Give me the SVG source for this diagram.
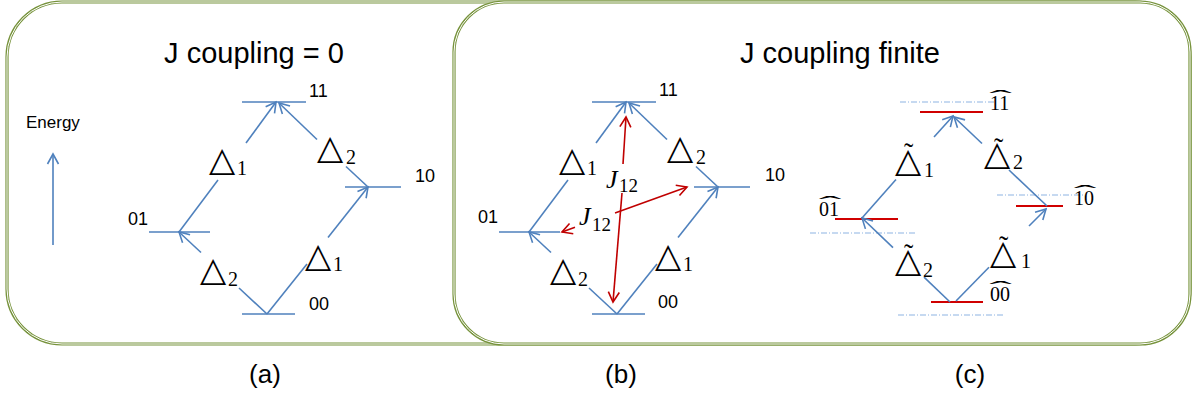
<svg xmlns="http://www.w3.org/2000/svg" width="1198" height="401" viewBox="0 0 1198 401">
<style>
.frame{fill:#fff;stroke:#77933C;stroke-width:3.2}
.frameIn{fill:none;stroke:#fff;stroke-width:1}
.lvl{stroke:#4F81BD;stroke-width:1.6;fill:none}
.rlvl{stroke:#D00000;stroke-width:2;fill:none}
.dd{stroke:#8DB3E2;stroke-width:1;stroke-dasharray:6 2 1 2;fill:none}
.arr{stroke:#4F81BD;stroke-width:1.6;fill:none}
.ra{stroke:#C00000;stroke-width:1.6;fill:none}
.title{font-family:"Liberation Sans",Arial,sans-serif;font-size:29px;fill:#000}
.lab{font-family:"Liberation Sans",Arial,sans-serif;font-size:18px;fill:#000}
.cap{font-family:"Liberation Sans",Arial,sans-serif;font-size:26px;fill:#000}
.tri{font-family:"DejaVu Sans",sans-serif;font-size:34px;fill:#000}
.sub{font-family:"Liberation Serif","Times New Roman",serif;font-size:20px;fill:#000}
.jj{font-family:"Liberation Serif","Times New Roman",serif;font-style:italic;font-size:26px;fill:#000}
.js{font-family:"Liberation Serif","Times New Roman",serif;font-style:normal;font-size:19px;fill:#000}
.hl{font-family:"Liberation Serif","Times New Roman",serif;font-size:20px;fill:#000}
.acc{font-family:"Liberation Serif","Times New Roman",serif;font-size:20px;fill:#000;text-anchor:middle}
.til{font-family:"Liberation Serif","Times New Roman",serif;font-size:28px;fill:#000}
</style>
<defs>
<marker id="ab" markerWidth="14" markerHeight="14" refX="12" refY="7" orient="auto-start-reverse" markerUnits="userSpaceOnUse"><path d="M2,1.5 L12,7 L2,12.5" fill="none" stroke="#4F81BD" stroke-width="1.6"/></marker>
<marker id="ar" markerWidth="14" markerHeight="14" refX="12" refY="7" orient="auto-start-reverse" markerUnits="userSpaceOnUse"><path d="M2,1.5 L12,7 L2,12.5" fill="none" stroke="#C00000" stroke-width="1.6"/></marker>
</defs>

<g id="frames">
<rect class="frame" x="7" y="2" width="1183" height="342" rx="55" ry="55"/>
<rect class="frameIn" x="7" y="2" width="1183" height="342" rx="55" ry="55"/>
<rect class="frame" x="454" y="2" width="736" height="342" rx="50" ry="50"/>
<rect class="frameIn" x="454" y="2" width="736" height="342" rx="50" ry="50"/>
</g>

<g id="titles">
<text class="title" x="254" y="63" text-anchor="middle">J coupling = 0</text>
<text class="title" x="840" y="63" text-anchor="middle">J coupling finite</text>
<text class="cap" x="265" y="383" text-anchor="middle">(a)</text>
<text class="cap" x="621" y="383" text-anchor="middle">(b)</text>
<text class="cap" x="970" y="383" text-anchor="middle">(c)</text>
</g>

<g id="energy">
<text class="lab" x="26" y="128" style="font-size:17px">Energy</text>
<path class="arr" d="M53,245 L53,154" marker-end="url(#ab)"/>
</g>

<!-- Panel (a) levels -->
<g id="a-11"><path class="lvl" d="M242,102 H306"/><text class="lab" x="309" y="97">11</text></g>
<g id="a-10"><path class="lvl" d="M345,187 H401"/><text class="lab" x="415" y="182">10</text></g>
<g id="a-01"><path class="lvl" d="M149,232 H210"/><text class="lab" x="128" y="225">01</text></g>
<g id="a-00"><path class="lvl" d="M242,314 H295"/><text class="lab" x="309" y="310">00</text></g>

<!-- Panel (b) levels -->
<g id="b-11"><path class="lvl" d="M592,102 H656"/><text class="lab" x="659" y="96">11</text></g>
<g id="b-10"><path class="lvl" d="M694,187 H750"/><text class="lab" x="765" y="181">10</text></g>
<g id="b-01"><path class="lvl" d="M499,232 H560"/><text class="lab" x="478" y="223">01</text></g>
<g id="b-00"><path class="lvl" d="M592,314 H645"/><text class="lab" x="658" y="308">00</text></g>

<!-- Panel (c) levels -->
<g id="c-11"><path class="dd" d="M900,102 H995"/><path class="rlvl" d="M920,112 H983"/><text class="acc" transform="translate(1000.5,105) scale(3.4,1)">ˆ</text><text class="hl" x="990" y="110">11</text></g>
<g id="c-10"><path class="dd" d="M997,195 H1085"/><path class="rlvl" d="M1016,206 H1063"/><text class="acc" transform="translate(1085,200) scale(3.4,1)">ˆ</text><text class="hl" x="1074" y="205">10</text></g>
<g id="c-01"><path class="dd" d="M810,233 H917"/><path class="rlvl" d="M835,219 H898"/><text class="acc" transform="translate(830,211) scale(3.4,1)">ˆ</text><text class="hl" x="819" y="216">01</text></g>
<g id="c-00"><path class="dd" d="M898,315 H1005"/><path class="rlvl" d="M931,302 H983"/><text class="acc" transform="translate(1000.5,296) scale(3.4,1)">ˆ</text><text class="hl" x="990" y="301">00</text></g>

<g id="connectors">
<!-- panel a -->
<path class="arr" d="M267,314 L307,264"/><path class="arr" d="M328,237.5 L368,187" marker-end="url(#ab)"/>
<path class="arr" d="M368,187 L346,166.5"/><path class="arr" d="M317,139.5 L279,103" marker-end="url(#ab)"/>
<path class="arr" d="M267,314 L239,288"/><path class="arr" d="M201,252.5 L179,232" marker-end="url(#ab)"/>
<path class="arr" d="M179,232 L218,180"/><path class="arr" d="M246,143 L276,102" marker-end="url(#ab)"/>
<!-- panel b -->
<path class="arr" d="M617,314 L657,264"/><path class="arr" d="M678,237.5 L718,187" marker-end="url(#ab)"/>
<path class="arr" d="M718,187 L696,166.5"/><path class="arr" d="M667,139.5 L629,103" marker-end="url(#ab)"/>
<path class="arr" d="M617,314 L589,288"/><path class="arr" d="M551,252.5 L529,232" marker-end="url(#ab)"/>
<path class="arr" d="M529,232 L568,180"/><path class="arr" d="M596,143 L626,102" marker-end="url(#ab)"/>
<path class="ra" d="M623,164 L626,117" marker-end="url(#ar)"/>
<path class="ra" d="M622,193 L613,302" marker-end="url(#ar)"/>
<path class="ra" d="M575,227.3 L562,232" marker-end="url(#ar)"/>
<path class="ra" d="M615,213 L687,187" marker-end="url(#ar)"/>
<!-- panel c -->
<path class="arr" d="M862,218 L896,179.5"/><path class="arr" d="M934,137 L953,116" marker-end="url(#ab)"/>
<path class="arr" d="M1047,206 L1009,170"/><path class="arr" d="M982,143.5 L954,117" marker-end="url(#ab)"/>
<path class="arr" d="M956,301 L989,267.3"/><path class="arr" d="M1029,226 L1046,209" marker-end="url(#ab)"/>
<path class="arr" d="M950,302 L924,277.2"/><path class="arr" d="M893,247.6 L862,218" marker-end="url(#ab)"/>
</g>

<g id="labels-a">
<text class="tri" x="209" y="171">△<tspan class="sub" x="237" y="175">1</tspan></text>
<text class="tri" x="317" y="159">△<tspan class="sub" x="346" y="164">2</tspan></text>
<text class="tri" x="200" y="281">△<tspan class="sub" x="228" y="286">2</tspan></text>
<text class="tri" x="305" y="267">△<tspan class="sub" x="333" y="271">1</tspan></text>
</g>
<g id="labels-b">
<text class="tri" x="559" y="171">△<tspan class="sub" x="587" y="175">1</tspan></text>
<text class="tri" x="667" y="159">△<tspan class="sub" x="696" y="164">2</tspan></text>
<text class="tri" x="550" y="281">△<tspan class="sub" x="578" y="286">2</tspan></text>
<text class="tri" x="655" y="267">△<tspan class="sub" x="683" y="271">1</tspan></text>
<text class="jj" x="606" y="188">J<tspan class="js" x="619" y="192">12</tspan></text>
<text class="jj" x="579" y="225">J<tspan class="js" x="592" y="231">12</tspan></text>
</g>
<g id="labels-c">
<text class="tri"><tspan class="til" x="904" y="162">˜</tspan><tspan x="895" y="172">△</tspan><tspan class="sub" x="924" y="177">1</tspan></text>
<text class="tri"><tspan class="til" x="994" y="157">˜</tspan><tspan x="984" y="165">△</tspan><tspan class="sub" x="1013" y="169">2</tspan></text>
<text class="tri"><tspan class="til" x="904" y="263">˜</tspan><tspan x="895" y="272">△</tspan><tspan class="sub" x="923" y="277">2</tspan></text>
<text class="tri"><tspan class="til" x="999" y="255">˜</tspan><tspan x="990" y="264">△</tspan><tspan class="sub" x="1021" y="268">1</tspan></text>
</g>
</svg>
